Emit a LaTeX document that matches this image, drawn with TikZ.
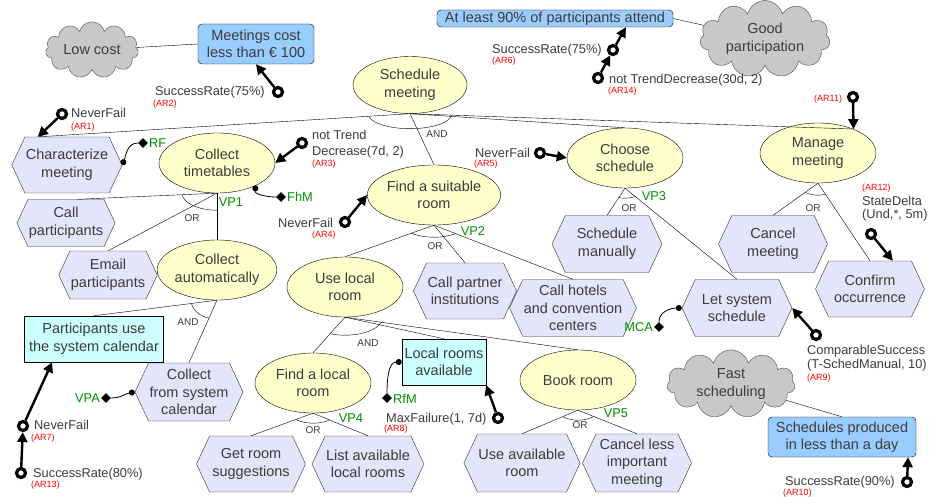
\documentclass[tikz,border=0pt]{standalone}
\usepackage{fontspec}
\setmainfont{Liberation Sans}
\usepackage{xcolor}
\usepackage{tikz}
\usetikzlibrary{shapes.geometric, shapes.symbols, positioning, arrows.meta}

\definecolor{goalfill}{HTML}{FFFFCC}
\definecolor{taskfill}{HTML}{E4E4FA}
\definecolor{softfill}{HTML}{99CCFF}
\definecolor{domfill}{HTML}{CCFFFF}
\definecolor{cloudfill}{HTML}{C8C8C8}
\definecolor{txtgray}{HTML}{3C3C3C}
\definecolor{vpgreen}{HTML}{009000}

\newcommand{\boxfont}{\fontsize{14.5}{17.5}\selectfont}
\newcommand{\rulefont}{\fontsize{12.8}{14}\selectfont}
\newcommand{\idfont}{\fontsize{9}{10}\selectfont}

\begin{document}
\begin{tikzpicture}[x=1pt, y=1pt,
    goal/.style={ellipse, draw, fill=goalfill, text=txtgray, minimum width=116pt, minimum height=60pt, inner sep=0pt, align=center, font=\boxfont},
    task/.style={signal, signal to=west and east, signal pointer angle=130, draw=black!80, fill=taskfill, text=txtgray, minimum width=109pt, minimum height=56pt, inner sep=1pt, align=center, font=\boxfont},
    softbox/.style={rectangle, rounded corners=4pt, draw, fill=softfill, text=txtgray, inner sep=1pt, align=center, font=\boxfont},
    dombox/.style={rectangle, draw, fill=domfill, text=txtgray, inner sep=1pt, align=center, font=\boxfont},
    softcloud/.style={cloud, cloud puffs=11, aspect=2, draw=black!70, fill=cloudfill, text=txtgray, inner sep=0pt, align=center, font=\boxfont},
    ring/.style={circle, draw, line width=3.2pt, minimum size=9pt, inner sep=0pt},
    rulearrow/.style={line width=2.4pt, -{Triangle[length=10pt, width=10pt]}},
    rltxt/.style={text=txtgray, inner sep=0pt, anchor=west, font=\rulefont},
    idtxt/.style={text=red, inner sep=0pt, anchor=west, font=\idfont},
    dectxt/.style={text=txtgray, inner sep=0pt, font=\fontsize{10}{12}\selectfont},
    vptxt/.style={text=vpgreen, inner sep=0pt, font=\rulefont},
    vpdiam/.style={diamond, fill=black, inner sep=0pt, minimum size=10pt},
    vpline/.style={thick, {Circle[length=6pt]}-}
]
    % Page frame
    \useasboundingbox[fill=white] (0,0) rectangle (929,-497);

    % Soft goals
    \node[softcloud, minimum width=93pt, minimum height=46pt] (lc) at (92,-50) {Low cost};
    \node[softcloud, minimum width=130pt, minimum height=58pt] (gp) at (765,-39) {Good\\participation};
    \node[softcloud, minimum width=128pt, minimum height=52pt] (fs) at (731,-384) {Fast\\scheduling};

    % Quality constraints
    \node[softbox, minimum width=116pt, minimum height=40pt] (mc) at (256,-44) {Meetings cost\\less than € 100};
    \node[softbox, minimum width=236pt, minimum height=17pt, inner ysep=0pt] (al) at (555,-18.5) {At least 90\% of participants attend};
    \node[softbox, minimum width=148pt, minimum height=40pt] (sp) at (842,-437) {Schedules produced\\in less than a day};

    \draw (lc) -- (mc.west);
    \draw (al.east) -- (gp);
    \draw (fs) -- (sp.north);

    % Goals
    \node[goal, minimum width=114pt, minimum height=57pt] (sm) at (410,-85) {Schedule\\meeting};
    \node[goal] (ct) at (217,-163) {Collect\\timetables};
    \node[goal] (fsr) at (434,-195) {Find a suitable\\room};
    \node[goal] (cs) at (625,-158) {Choose\\schedule};
    \node[goal] (mm) at (818,-153) {Manage\\meeting};
    \node[goal] (ca) at (217,-270) {Collect\\automatically};
    \node[goal] (ulr) at (345,-287) {Use local\\room};
    \node[goal] (fal) at (313,-383) {Find a local\\room};
    \node[goal] (br) at (578,-380) {Book room};

    % Tasks
    \node[task] (charmeet) at (67,-165) {Characterize\\meeting};
    \node[task, minimum width=98pt, minimum height=47pt] (cp) at (66,-223) {Call\\participants};
    \node[task, minimum width=96pt, minimum height=48pt] (ep) at (108,-275) {Email\\participants};
    \node[task, minimum width=108pt, minimum height=58pt] (cfsc) at (189,-392) {Collect\\from system\\calendar};
    \node[task] (grs) at (251,-464) {Get room\\suggestions};
    \node[task, minimum width=110pt] (lalr) at (368,-464) {List available\\local rooms};
    \node[task, minimum width=100pt] (cpi) at (465,-291) {Call partner\\institutions};
    \node[task, minimum height=57pt] (chc) at (573,-308) {Call hotels\\and convention\\centers};
    \node[task, minimum width=110pt, minimum height=57pt] (smn) at (607,-244) {Schedule\\manually};
    \node[task, minimum height=57pt] (cm) at (773,-244) {Cancel\\meeting};
    \node[task] (co) at (870,-289) {Confirm\\occurrence};
    \node[task, minimum width=110pt, minimum height=57pt] (lss) at (737,-308) {Let system\\schedule};
    \node[task, minimum height=58pt] (uar) at (522,-463) {Use available\\room};
    \node[task, minimum height=58pt] (clim) at (637,-463) {Cancel less\\important\\meeting};

    % Domain properties
    \node[dombox, minimum width=139pt, minimum height=46pt] (pusc) at (94,-339) {Participants use\\the system calendar};
    \node[dombox, minimum width=84pt, minimum height=46pt] (lra) at (444,-362) {Local rooms\\available};

    % Refinement of Schedule meeting
    \draw (sm.south) -- (charmeet.136);
    \draw (sm.south) -- (fsr.north);
    \draw (sm.south) -- (cs.north);
    \draw (sm.south) -- (mm.34);
    \draw ([shift={(190.3:42pt and 15pt)}]sm.south) arc[start angle=190.3, end angle=354.2, x radius=42pt, y radius=15pt];
    \node[dectxt] (smand) at (437,-134) {AND};

    % Refinement of Collect timetables
    \draw (ct.south) -- (cp.65);
    \draw (ct.south) -- (ep.north);
    \draw (ct.south) -- (ca.north);
    \draw ([shift={(185.5:35pt and 17pt)}]ct.south) arc[start angle=185.5, end angle=270, x radius=35pt, y radius=17pt];
    \node[dectxt] (ctor) at (192,-218) {OR};
    \node[vptxt] (vp1) at (231,-202) {VP1};

    % Refinement of Collect automatically
    \draw (ca.south) -- (pusc.north);
    \draw (ca.south) -- (cfsc.north);
    \draw ([shift={(190.1:26pt and 19pt)}]ca.south) arc[start angle=190.1, end angle=252, x radius=26pt, y radius=19pt];
    \node[dectxt] (caand) at (188,-322) {AND};

    % Refinement of Find a suitable room
    \draw (fsr.south) -- (ulr.north);
    \draw (fsr.south) -- (cpi.north);
    \draw (fsr.south) -- (chc.north);
    \draw ([shift={(222:30pt and 12pt)}]fsr.south) arc[start angle=222, end angle=315.3, x radius=30pt, y radius=12pt];
    \node[dectxt] (fsror) at (435,-246) {OR};
    \node[vptxt] (vp2) at (473,-231) {VP2};

    % Refinement of Choose schedule
    \draw (cs.south) -- (smn.north);
    \draw (cs.south) -- (lss.north);
    \draw ([shift={(247.6:18pt and 10pt)}]cs.south) arc[start angle=247.6, end angle=304.1, x radius=18pt, y radius=10pt];
    \node[dectxt] (csor) at (629,-208) {OR};
    \node[vptxt] (vp3) at (654,-196) {VP3};

    % Refinement of Manage meeting
    \draw (mm.south) -- (cm.north);
    \draw (mm.south) -- (co.north);
    \draw ([shift={(230:20pt and 12pt)}]mm.south) arc[start angle=230, end angle=291.8, x radius=20pt, y radius=12pt];
    \node[dectxt] (mmor) at (813,-208) {OR};

    % Refinement of Use local room
    \draw (ulr.south) -- (fal.north);
    \draw (ulr.south) -- (lra.north);
    \draw (ulr.south) -- (br.north);
    \draw ([shift={(247:38pt and 18pt)}]ulr.south) arc[start angle=247, end angle=343.4, x radius=38pt, y radius=18pt];
    \node[dectxt] (ulrand) at (368,-343) {AND};

    % Refinement of Find a local room
    \draw (fal.south) -- (grs.north);
    \draw (fal.south) -- (lalr.north);
    \draw ([shift={(219.2:22pt and 10pt)}]fal.south) arc[start angle=219.2, end angle=317.4, x radius=22pt, y radius=10pt];
    \node[dectxt] (falor) at (313,-430) {OR};
    \node[vptxt] (vp4) at (351,-418) {VP4};

    % Refinement of Book room
    \draw (br.south) -- (uar.north);
    \draw (br.south) -- (clim.north);
    \draw ([shift={(220.6:20pt and 10pt)}]br.south) arc[start angle=220.6, end angle=320.9, x radius=20pt, y radius=10pt];
    \node[dectxt] (bror) at (580,-425) {OR};
    \node[vptxt] (vp5) at (616,-413) {VP5};

    % Variation points
    \node[vpdiam] (rf) at (143,-143) {};
    \node[vptxt, anchor=west] (rftxt) at (149,-143) {RF};
    \draw[vpline] (charmeet.east) to[out=70, in=180] (rf);
    \node[vpdiam] (fhm) at (281,-197) {};
    \node[vptxt, anchor=west] (fhmtxt) at (287,-197) {FhM};
    \draw[vpline] (ct.-30) to[out=-100, in=180] (fhm);
    \node[vpdiam] (mca) at (659,-327) {};
    \node[vptxt, anchor=east] (mcatxt) at (653,-327) {MCA};
    \draw[vpline] (lss.west) to[out=180, in=90] (mca);
    \node[vpdiam] (vpa) at (106,-398) {};
    \node[vptxt, anchor=east] (vpatxt) at (100,-398) {VPA};
    \draw[vpline] (cfsc.west) to[out=190, in=0] (vpa);
    \node[vpdiam] (rfm) at (387,-398) {};
    \node[vptxt, anchor=west] (rfmtxt) at (393,-399) {RfM};
    \draw[vpline] (lra.west) to[out=180, in=90] (rfm);

    % Monitoring rules
    \node[ring] (ar1) at (62,-114) {};
    \draw[rulearrow] (ar1) -- (charmeet.136);
    \node[rltxt] (ar1txt) at (71,-113) {NeverFail};
    \node[idtxt] (ar1id) at (71,-127) {(AR1)};

    \node[ring] (ar2) at (278,-92) {};
    \draw[rulearrow] (ar2) -- (mc.south);
    \node[rltxt] (ar2txt) at (155,-92) {SuccessRate(75\%)};
    \node[idtxt] (ar2id) at (153,-104) {(AR2)};

    \node[ring] (ar3) at (302,-143) {};
    \draw[rulearrow] (ar3) -- (ct.east);
    \node[rltxt] (ar3txt) at (312,-135) {not Trend};
    \node[rltxt] (ar3txtb) at (312,-152) {Decrease(7d, 2)};
    \node[idtxt] (ar3id) at (312,-164) {(AR3)};

    \node[ring] (ar4) at (345,-222) {};
    \draw[rulearrow] (ar4) -- (fsr.west);
    \node[rltxt] (ar4txt) at (278,-223) {NeverFail};
    \node[idtxt] (ar4id) at (312,-235) {(AR4)};

    \node[ring] (ar5) at (540,-153) {};
    \draw[rulearrow] (ar5) -- (cs.west);
    \node[rltxt] (ar5txt) at (475,-153) {NeverFail};
    \node[idtxt] (ar5id) at (474,-164) {(AR5)};

    \node[ring] (ar6) at (613,-50) {};
    \draw[rulearrow] (ar6) -- (al.-7);
    \node[rltxt] (ar6txt) at (492,-50) {SuccessRate(75\%)};
    \node[idtxt] (ar6id) at (492,-61) {(AR6)};

    \node[ring] (ar14) at (598,-78) {};
    \draw[rulearrow] (ar14) -- (ar6);
    \node[rltxt] (ar14txt) at (609,-80) {not TrendDecrease(30d, 2)};
    \node[idtxt] (ar14id) at (608,-91) {(AR14)};

    \node[ring] (ar11) at (853,-97) {};
    \draw[rulearrow] (ar11) -- (mm.34);
    \node[idtxt] (ar11id) at (814,-99) {(AR11)};

    \node[ring] (ar12) at (871,-234) {};
    \draw[rulearrow] (ar12) -- (co.51);
    \node[idtxt] (ar12id) at (862,-188) {(AR12)};
    \node[rltxt] (ar12txt) at (862,-201) {StateDelta};
    \node[rltxt] (ar12txtb) at (862,-215) {(Und,*, 5m)};

    \node[ring] (ar9) at (816,-335) {};
    \draw[rulearrow] (ar9) -- (lss.east);
    \node[rltxt] (ar9txt) at (807,-351) {ComparableSuccess};
    \node[rltxt] (ar9txtb) at (807,-365) {(T-SchedManual, 10)};
    \node[idtxt] (ar9id) at (807,-378) {(AR9)};

    \node[ring] (ar10) at (907,-482) {};
    \draw[rulearrow] (ar10) -- (sp.-17);
    \node[rltxt] (ar10txt) at (785,-482) {SuccessRate(90\%)};
    \node[idtxt] (ar10id) at (783,-493) {(AR10)};

    \node[ring] (ar7) at (23,-426) {};
    \draw[rulearrow] (ar7) -- (pusc.209);
    \node[rltxt] (ar7txt) at (34,-425) {NeverFail};
    \node[idtxt] (ar7id) at (31,-438) {(AR7)};

    \node[ring] (ar13) at (21,-473) {};
    \draw[rulearrow] (ar13) -- (ar7);
    \node[rltxt] (ar13txt) at (33,-474) {SuccessRate(80\%)};
    \node[idtxt] (ar13id) at (31,-485) {(AR13)};

    \node[ring] (ar8) at (498,-418) {};
    \draw[rulearrow] (ar8) -- (lra.south east);
    \node[rltxt] (ar8txt) at (386,-419) {MaxFailure(1, 7d)};
    \node[idtxt] (ar8id) at (384,-429) {(AR8)};
\end{tikzpicture}
\end{document}
